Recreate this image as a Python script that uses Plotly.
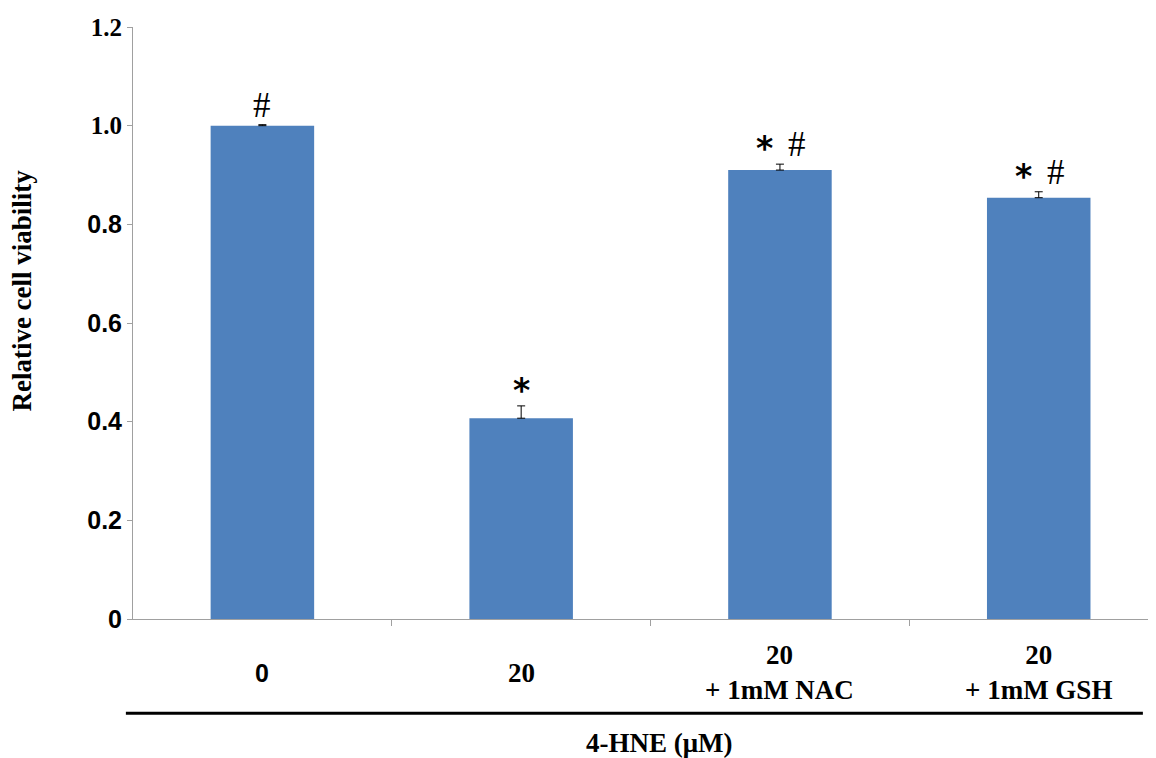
import plotly.graph_objects as go

categories = ["0", "20", "20<br>+ 1mM NAC", "20<br>+ 1mM GSH"]
viability = [1.0, 0.407, 0.910, 0.854]
errors = [0.002, 0.025, 0.012, 0.012]
stars = ["", "*", "*", "*"]
hashes = ["#", "", "#", "#"]
ytick_vals = [0, 0.2, 0.4, 0.6, 0.8, 1.0, 1.2]
ytick_text = ["0", "0.2", "0.4", "0.6", "0.8", "1.0", "1.2"]

SERIF = "Liberation Serif"
SANS = "Liberation Sans"
xs = list(range(len(categories)))


def ytick_label(t):
    fam = SERIF if t in ("1.0", "1.2") else SANS
    return "<span style='font-family:%s'><b>%s</b></span>" % (fam, t)


fig = go.Figure()
fig.add_trace(go.Bar(
    x=xs, y=viability, width=0.40,
    marker=dict(color="#4f81bd", line=dict(width=0)),
    error_y=dict(type="data", symmetric=False, array=errors,
                 arrayminus=[0] * len(errors), color="black",
                 thickness=1, width=4),
    showlegend=False,
))

ann = []
for i, cat in enumerate(categories):
    fam = SANS if cat == "0" else SERIF
    ann.append(dict(x=i, y=-0.0906, xref="x", yref="paper", text="<b>" + cat + "</b>",
                    showarrow=False, yanchor="middle",
                    font=dict(family=fam, size=27 if fam == SERIF else 25, color="black")))
    top = viability[i] + errors[i]
    both = stars[i] and hashes[i]
    if stars[i]:
        ann.append(dict(x=i, y=top, xref="x", yref="y", text="<b>*</b>",
                        showarrow=False, yanchor="bottom",
                        xshift=-15 if both else 0, yshift=-6,
                        font=dict(family="DejaVu Sans", size=33, color="black")))
    if hashes[i]:
        ann.append(dict(x=i, y=top, xref="x", yref="y", text="#",
                        showarrow=False, yanchor="bottom",
                        xshift=17 if both else 0, yshift=-2,
                        font=dict(family=SERIF, size=35, color="black")))

ann.append(dict(x=-0.109, y=0.555, xref="paper", yref="paper",
                text="<b>Relative cell viability</b>", textangle=-90,
                showarrow=False, xanchor="center", yanchor="middle",
                font=dict(family=SERIF, size=27, color="black")))
ann.append(dict(x=0.518, y=-0.2097, xref="paper", yref="paper",
                text="<b>4-HNE (μM)</b>", showarrow=False,
                xanchor="center", yanchor="middle",
                font=dict(family=SERIF, size=27, color="black")))

fig.update_layout(
    width=1148, height=750,
    margin=dict(l=125, r=6, t=15, b=139),
    paper_bgcolor="white", plot_bgcolor="white",
    annotations=ann,
    shapes=[dict(type="line", xref="paper", yref="paper",
                 x0=-0.007, x1=0.993, y0=-0.159, y1=-0.159,
                 line=dict(color="black", width=3))],
    xaxis=dict(range=[-0.5, 3.43], tickmode="array",
               tickvals=[0.5, 1.5, 2.5], showticklabels=False,
               ticks="outside", ticklen=6, tickcolor="#a0a0a0",
               showline=True, linecolor="#a0a0a0", linewidth=1,
               showgrid=False, zeroline=False),
    yaxis=dict(range=[0, 1.2], tickmode="array", tickvals=ytick_vals,
               ticktext=[ytick_label(t) for t in ytick_text],
               ticks="outside", ticklen=5, tickcolor="#a0a0a0",
               showline=True, linecolor="#a0a0a0", linewidth=1,
               showgrid=False, zeroline=False,
               tickfont=dict(family=SANS, size=25, color="black")),
)

fig.write_html("out.html")
